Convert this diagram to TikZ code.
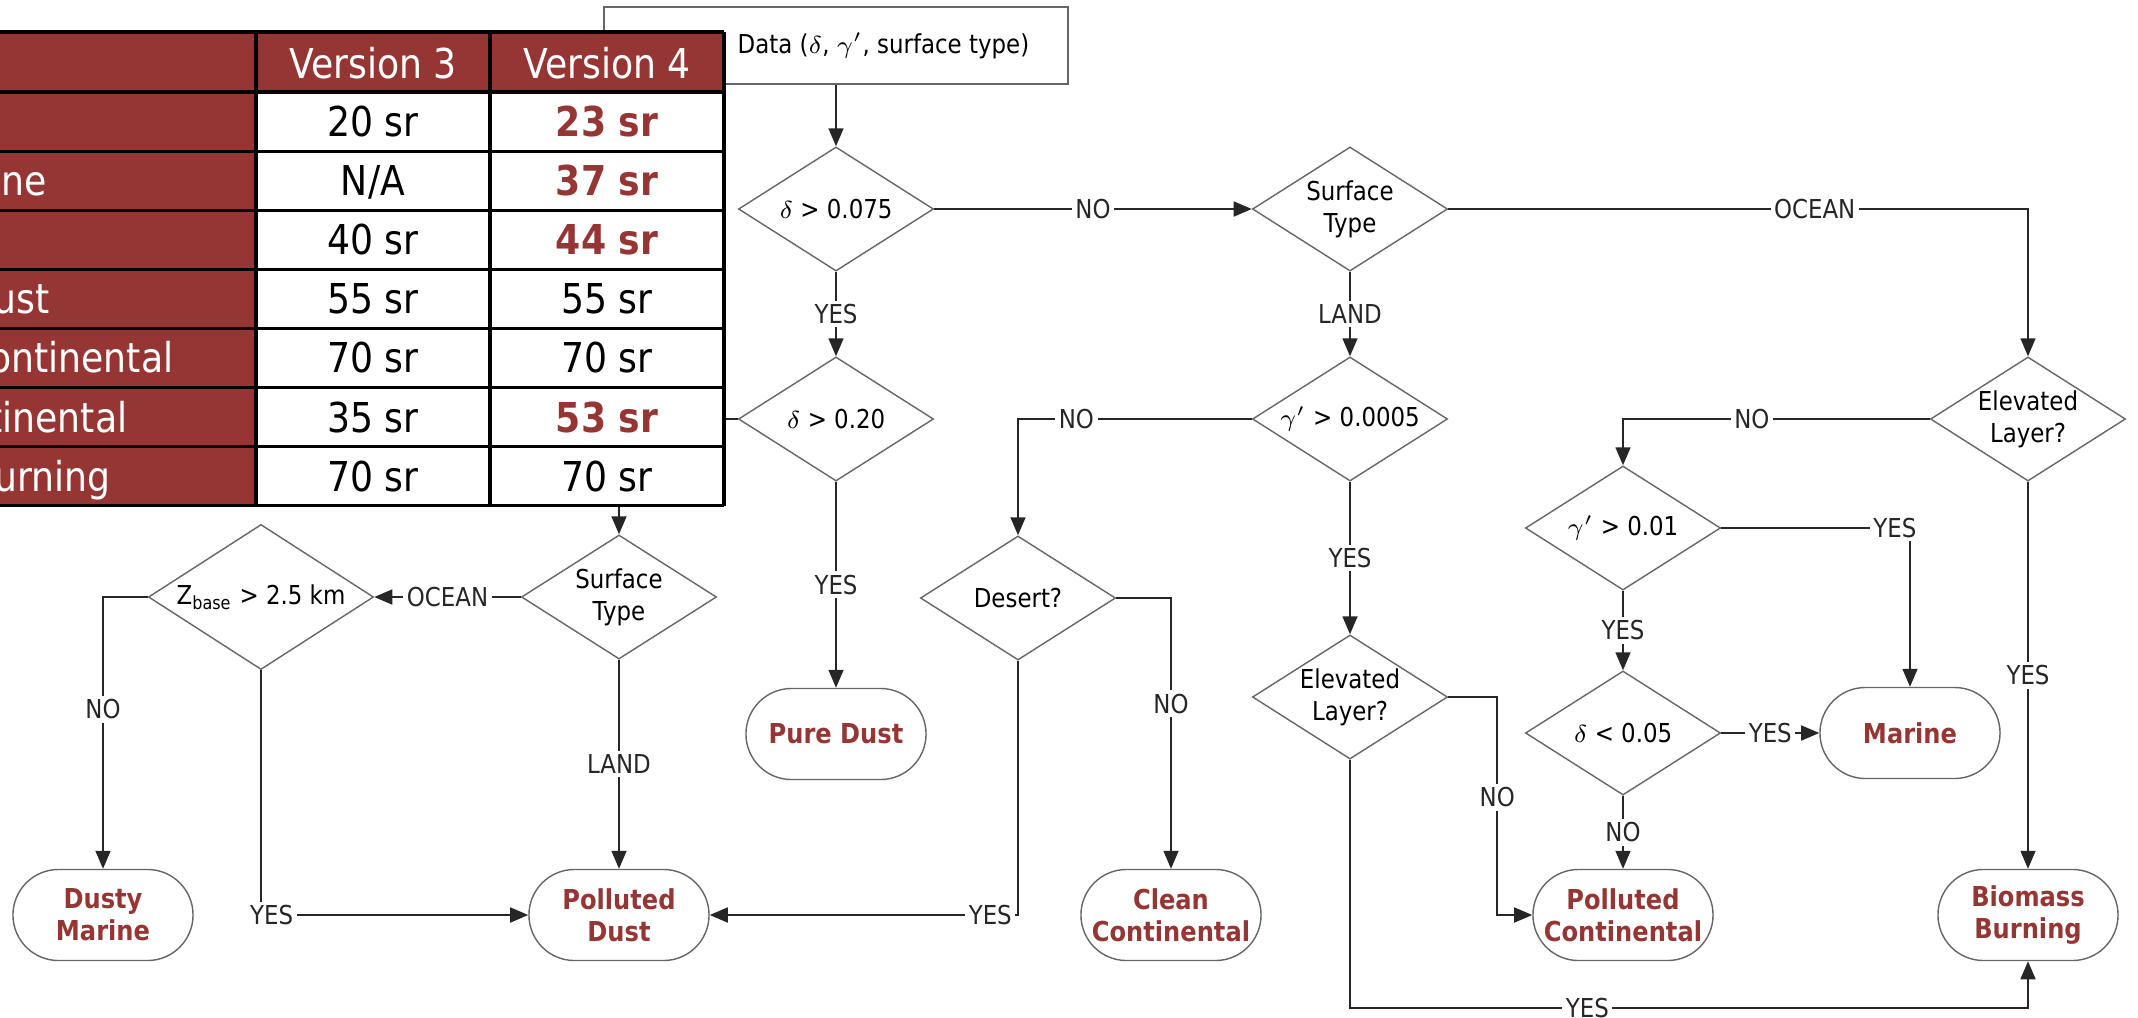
\documentclass[tikz,border=0pt]{standalone}
\usepackage{fontspec}
\setmainfont[FakeStretch=0.88]{DejaVu Sans}
\usetikzlibrary{shapes.geometric,shapes.misc,arrows.meta}
\definecolor{tabred}{RGB}{150,54,52}
\newcommand{\flowfont}{\fontsize{7.4}{9}\selectfont}
\newcommand{\termfont}{\fontsize{7.8}{9}\selectfont\bfseries}
\newcommand{\tabfont}{\fontsize{11.7}{14}\selectfont}
\newcommand{\newsr}[1]{\textcolor{tabred}{\bfseries #1}}

\begin{document}
\begin{tikzpicture}[x=0.01cm, y=-0.01cm, >={Triangle[length=1.8mm, width=1.5mm]},
		decision/.style={diamond, draw=black!60, fill=white, line width=0.4pt, minimum width=1.95cm, minimum height=1.24cm, aspect=1.57, inner sep=0pt, align=center, font=\flowfont},
		terminal/.style={rounded rectangle, draw=black!60, fill=white, line width=0.4pt, minimum width=1.8cm, minimum height=0.91cm, inner sep=0pt, align=center, text=tabred, font=\termfont},
		lbl/.style={fill=white, inner sep=1pt, font=\flowfont},
		link/.style={->, line width=0.45pt, black!85},
		tabtxt/.style={anchor=base, inner sep=0pt, font=\tabfont}]
	\clip (0,0) rectangle (2138,1017);
	\fill[white] (0,0) rectangle (2138,1017);

	% Входные данные
	\node[draw=black!60, line width=0.4pt, minimum width=4.64cm, minimum height=0.77cm, inner sep=0pt] (input) at (836,45.5) {};
	\node[anchor=west, inner sep=0pt, font=\flowfont] (inputtxt) at (737,46) {Data ($\delta$, $\gamma'$, surface type)};

	% Ромбы
	\node[decision] (d1) at (836,209) {$\delta$ > 0.075};
	\node[decision] (d2) at (836,419) {$\delta$ > 0.20};
	\node[decision] (st1) at (1350,209) {Surface\\Type};
	\node[decision] (g1) at (1350,419) {$\gamma'$ > 0.0005};
	\node[decision] (el1) at (1350,697) {Elevated\\Layer?};
	\node[decision] (el2) at (2028,419) {Elevated\\Layer?};
	\node[decision] (g2) at (1623,528) {$\gamma'$ > 0.01};
	\node[decision] (d3) at (1623,733) {$\delta$ < 0.05};
	\node[decision] (desert) at (1018,598) {Desert?};
	\node[decision] (st2) at (619,597) {Surface\\Type};
	\node[decision, minimum width=2.25cm, minimum height=1.45cm] (zb) at (261,597) {Z\textsubscript{base} > 2.5 km};

	% Типы аэрозоля
	\node[terminal] (puredust) at (836,734) {Pure Dust};
	\node[terminal] (marine) at (1910,733) {Marine};
	\node[terminal] (dm) at (103,915) {Dusty\\Marine};
	\node[terminal] (pdust) at (619,915) {Polluted\\Dust};
	\node[terminal] (ccont) at (1171,915) {Clean\\Continental};
	\node[terminal] (pcont) at (1623,915) {Polluted\\Continental};
	\node[terminal] (bio) at (2028,915) {Biomass\\Burning};

	\coordinate (hid1) at (700,419);
	\coordinate (hid2) at (619,480);
	\coordinate (bottomline) at (0,1008);

	% Стрелки
	\draw[link] (input) -- (d1);
	\draw[link] (d1) -- node[lbl]{YES} (d2);
	\draw[link] (d1) -- node[lbl]{NO} (st1);
	\draw[link] (st1) -| node[lbl, pos=0.316]{OCEAN} (el2);
	\draw[link] (st1) -- node[lbl]{LAND} (g1);
	\draw[link] (g1) -| node[lbl, pos=0.375]{NO} (desert);
	\draw[link] (g1) -- node[lbl]{YES} (el1);
	\draw[link] (el1.east) -- ++(49,0) |- node[lbl, pos=0.23]{NO} (pcont);
	\draw[link] (el1) |- node[lbl, pos=0.675]{YES} (bottomline -| bio) -- (bio);
	\draw[link] (el2) -| node[lbl, pos=0.29]{NO} (g2);
	\draw[link] (el2) -- node[lbl]{YES} (bio);
	\draw[link] (g2) -| node[lbl, pos=0.46]{YES} (marine);
	\draw[link] (g2) -- node[lbl]{YES} (d3);
	\draw[link] (d3) -- node[lbl]{YES} (marine);
	\draw[link] (d3) -- node[lbl]{NO} (pcont);
	\draw[link] (desert) -| node[lbl, pos=0.695]{NO} (ccont);
	\draw[link] (desert) |- node[lbl, pos=0.545]{YES} (pdust);
	\draw[link] (d2) -- node[lbl]{YES} (puredust);
	\draw[line width=0.45pt, black!85] (d2.west) -- (hid1);
	\draw[link] (hid2) -- (st2);
	\draw[link] (st2) -- node[lbl]{OCEAN} (zb);
	\draw[link] (st2) -- node[lbl]{LAND} (pdust);
	\draw[link] (zb) -| node[lbl, pos=0.707]{NO} (dm);
	\draw[link] (zb) |- node[lbl, pos=0.52]{YES} (pdust);

	% Таблица
	\fill[tabred] (-20,32) rectangle (724,92);
	\fill[tabred] (-20,92) rectangle (256,505.7);
	\fill[white] (256,92) rectangle (724,505.7);
	\draw[line width=0.9pt] (-20,32) -- (724,32);
	\foreach \i in {0,...,7}
		\draw[line width=0.9pt] (-20,{92+59.1*\i}) -- (724,{92+59.1*\i});
	\foreach \x in {256,490,724}
		\draw[line width=0.9pt] (\x,32) -- (\x,505.7);

	\node[tabtxt, text=white] (hthree) at (373,78) {Version 3};
	\node[tabtxt, text=white] (hfour) at (607,78) {Version 4};
	\foreach \i/\t/\x in {2/ne/47, 4/ust/50, 5/ontinental/174, 6/tinental/128, 7/urning/111}
		\node[tabtxt, anchor=base east, text=white] (kind\i) at (\x,{92+59.1*(\i-0.5)+15}) {\t};
	\foreach \v [count=\i] in {20 sr, {N/A}, 40 sr, 55 sr, 70 sr, 35 sr, 70 sr}
		\node[tabtxt] (vthree\i) at (373,{92+59.1*(\i-0.5)+15}) {\v};
	\foreach \v [count=\i] in {\newsr{23 sr}, \newsr{37 sr}, \newsr{44 sr}, 55 sr, 70 sr, \newsr{53 sr}, 70 sr}
		\node[tabtxt] (vfour\i) at (607,{92+59.1*(\i-0.5)+15}) {\v};
\end{tikzpicture}
\end{document}
